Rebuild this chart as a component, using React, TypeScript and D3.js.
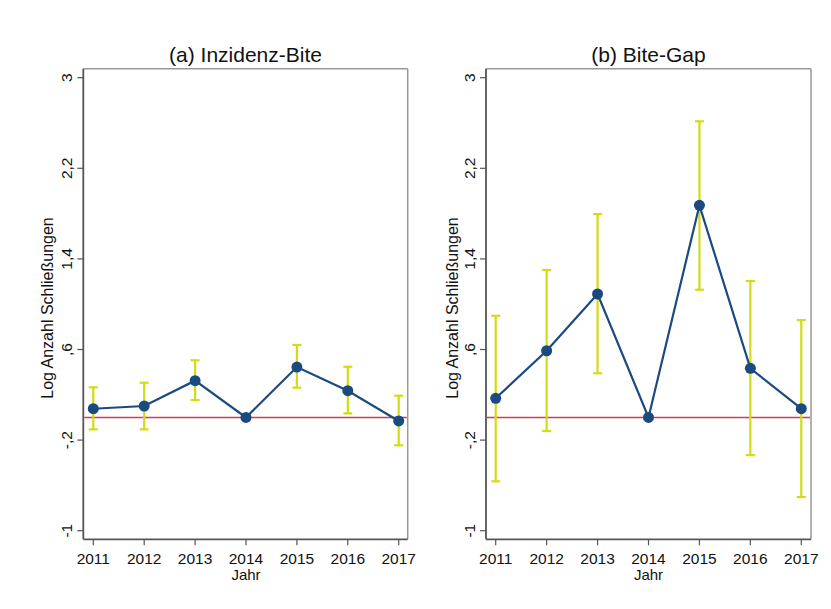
import React from "react";
import * as d3 from "d3";

const years = [2011, 2012, 2013, 2014, 2015, 2016, 2017];
const yTicks = [3, 2.2, 1.4, 0.6, -0.2, -1];
const yTickLabels = ["3", "2,2", "1,4", ",6", "-,2", "-1"];

const titleA = "(a) Inzidenz-Bite";
const estA = [0.077, 0.101, 0.325, 0, 0.445, 0.236, -0.031];
const loA = [-0.105, -0.105, 0.154, 0, 0.263, 0.036, -0.246];
const hiA = [0.266, 0.307, 0.505, 0, 0.64, 0.448, 0.192];

const titleB = "(b) Bite-Gap";
const estB = [0.169, 0.589, 1.09, 0, 1.873, 0.434, 0.077];
const loB = [-0.564, -0.12, 0.39, 0, 1.128, -0.332, -0.703];
const hiB = [0.898, 1.302, 1.796, 0, 2.615, 1.205, 0.86];

const yTitle = "Log Anzahl Schließungen";
const xTitle = "Jahr";

const NAVY = "#1a4a80";
const LIME = "#d2dc14";
const RED = "#d23c5a";
const FONT = "Liberation Sans, Arial, sans-serif";

type PanelProps = {
  title: string;
  est: number[];
  lo: number[];
  hi: number[];
  left: number;
  right: number;
  x0: number;
  x1: number;
  yTitleX: number;
};

function Panel({ title, est, lo, hi, left, right, x0, x1, yTitleX }: PanelProps) {
  const top = 68.7;
  const bottom = 539.3;
  const x = d3.scaleLinear().domain([2011, 2017]).range([x0, x1]);
  const y = d3.scaleLinear().domain([-1, 3]).range([530.7, 77.7]);
  const line = d3
    .line<number>()
    .x((_, i) => x(years[i]))
    .y((d) => y(d));
  const cap = 4.5;
  return (
    <g>
      <text x={(left + right) / 2} y={62} textAnchor="middle" fontFamily={FONT} fontSize={21} fill="#111">
        {title}
      </text>
      {/* frame */}
      <line x1={left} x2={right} y1={top} y2={top} stroke="#999" strokeWidth={1.5} />
      <line x1={right} x2={right} y1={top} y2={bottom} stroke="#999" strokeWidth={1.5} />
      <line x1={left} x2={left} y1={top} y2={bottom} stroke="#555" strokeWidth={1.8} />
      <line x1={left} x2={right} y1={bottom} y2={bottom} stroke="#555" strokeWidth={1.8} />
      {/* y ticks */}
      {yTicks.map((t, i) => (
        <g key={"y" + i}>
          <line x1={left - 6} x2={left} y1={y(t)} y2={y(t)} stroke="#555" strokeWidth={1.2} />
          <text
            transform={`translate(${left - 11},${y(t)}) rotate(-90)`}
            textAnchor="middle"
            fontFamily={FONT}
            fontSize={15.5}
            fill="#111"
          >
            {yTickLabels[i]}
          </text>
        </g>
      ))}
      {/* x ticks */}
      {years.map((yr) => (
        <g key={"x" + yr}>
          <line x1={x(yr)} x2={x(yr)} y1={bottom} y2={bottom + 6} stroke="#555" strokeWidth={1.2} />
          <text x={x(yr)} y={564} textAnchor="middle" fontFamily={FONT} fontSize={15.5} fill="#111">
            {yr}
          </text>
        </g>
      ))}
      <text x={x(2014)} y={580} textAnchor="middle" fontFamily={FONT} fontSize={15} fill="#111">
        {xTitle}
      </text>
      <text
        transform={`translate(${yTitleX},${(top + bottom) / 2 + 4}) rotate(-90)`}
        textAnchor="middle"
        fontFamily={FONT}
        fontSize={16}
        fill="#111"
      >
        {yTitle}
      </text>
      {/* zero line */}
      <line x1={left + 1} x2={right - 1} y1={y(0)} y2={y(0)} stroke={RED} strokeWidth={1.6} />
      {/* CIs */}
      {years.map((yr, i) =>
        hi[i] !== lo[i] ? (
          <g key={"ci" + yr} stroke={LIME} strokeWidth={2.2}>
            <line x1={x(yr)} x2={x(yr)} y1={y(lo[i])} y2={y(hi[i])} />
            <line x1={x(yr) - cap} x2={x(yr) + cap} y1={y(lo[i])} y2={y(lo[i])} />
            <line x1={x(yr) - cap} x2={x(yr) + cap} y1={y(hi[i])} y2={y(hi[i])} />
          </g>
        ) : null
      )}
      <path d={line(est) || ""} fill="none" stroke={NAVY} strokeWidth={2.2} />
      {years.map((yr, i) => (
        <circle key={"p" + yr} cx={x(yr)} cy={y(est[i])} r={5.5} fill={NAVY} />
      ))}
    </g>
  );
}

export default function App() {
  return (
    <svg width={831} height={609} style={{ position: "absolute", left: 0, top: 0, background: "#fff" }}>
      <rect width={831} height={609} fill="#fff" />
      <Panel title={titleA} est={estA} lo={loA} hi={hiA} left={83.3} right={407.7} x0={93.3} x1={398.7} yTitleX={53} />
      <Panel title={titleB} est={estB} lo={loB} hi={hiB} left={486} right={811} x0={495.7} x1={801.3} yTitleX={458} />
    </svg>
  );
}
